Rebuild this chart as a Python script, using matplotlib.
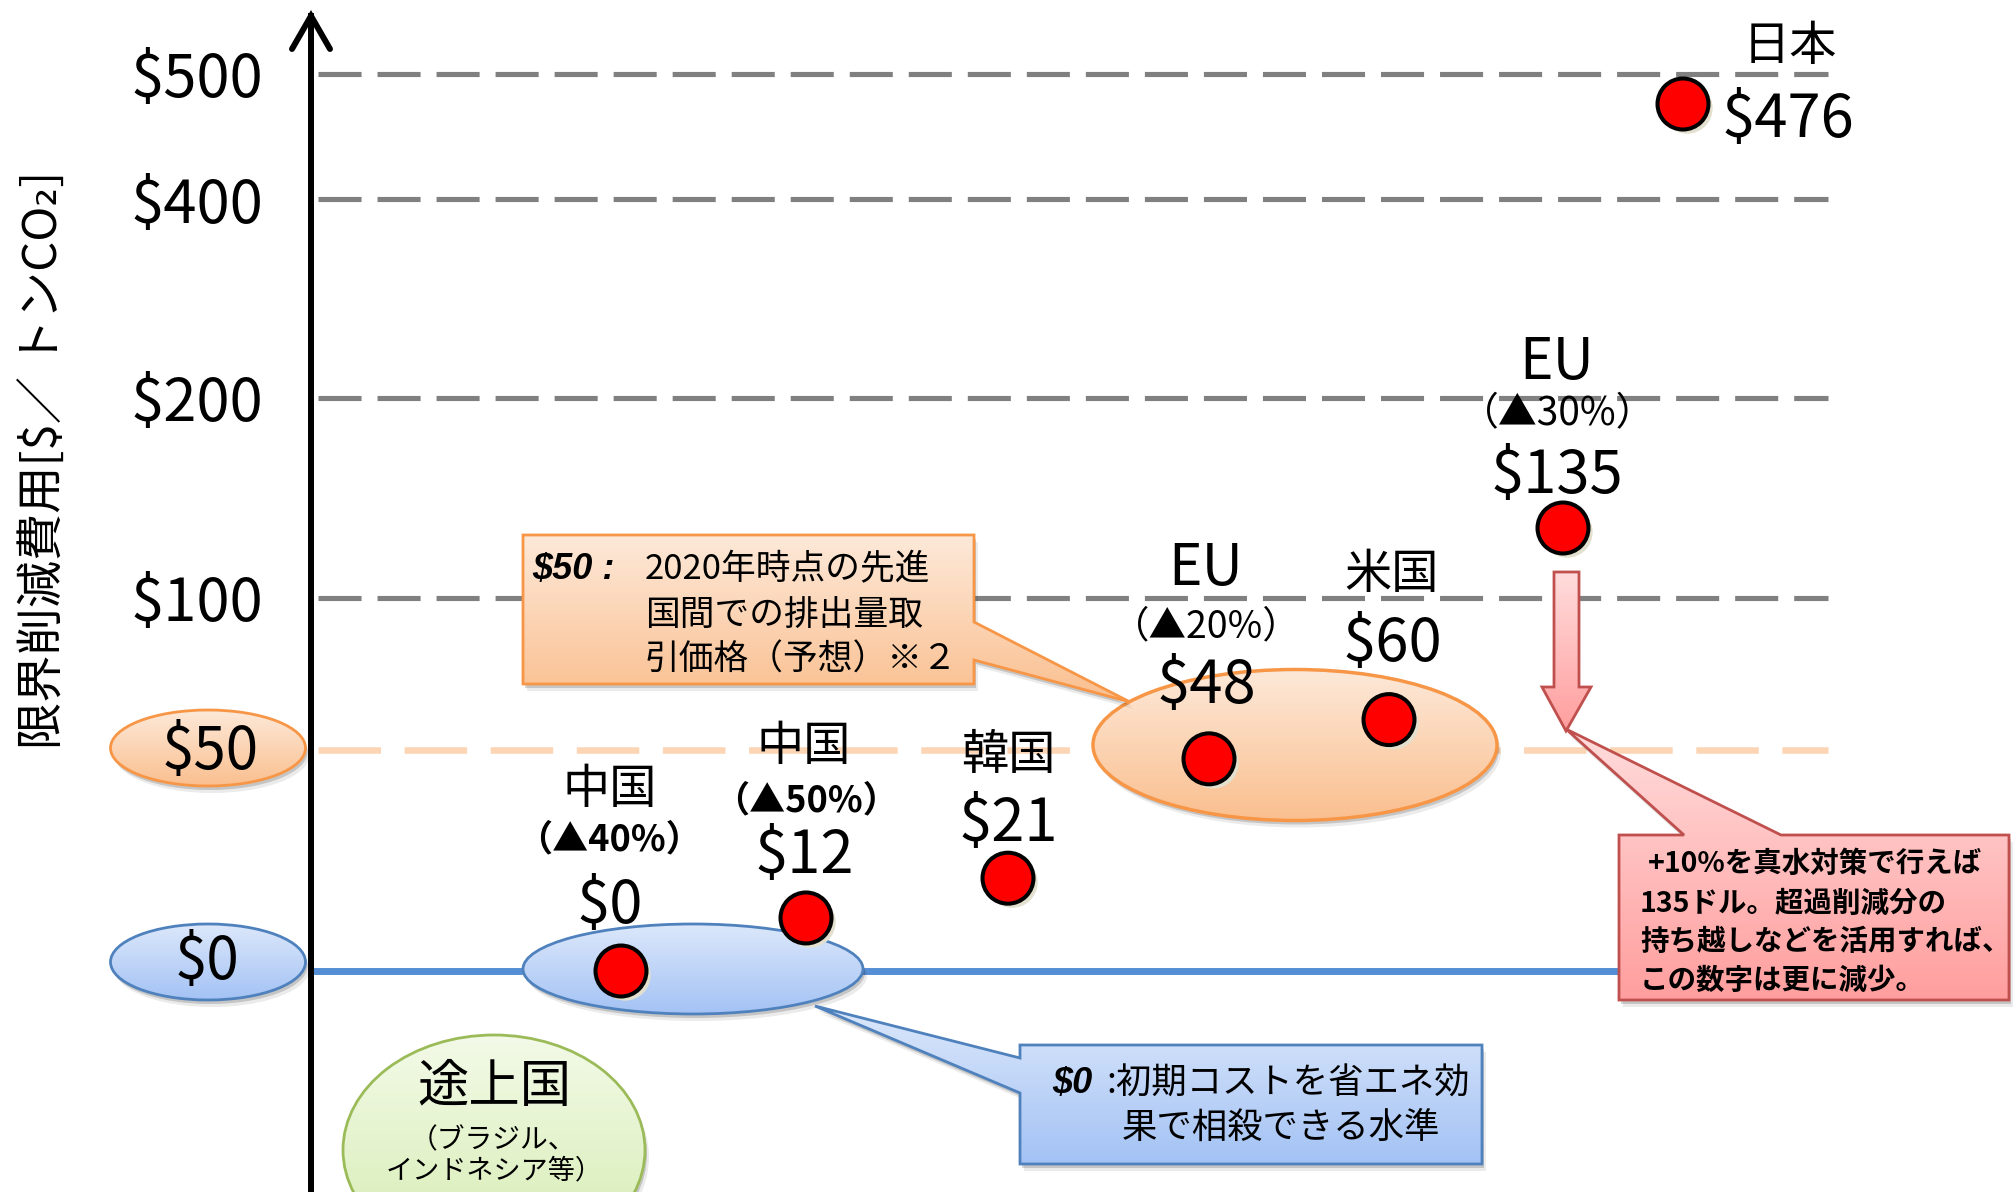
import numpy as np
import matplotlib
matplotlib.use("Agg")
import matplotlib.pyplot as plt
import matplotlib.transforms as mtransforms
import matplotlib.patheffects as pe
from matplotlib.patches import Ellipse, Polygon
from matplotlib.colors import LinearSegmentedColormap
from matplotlib.ticker import NullLocator

plt.rcParams['font.family'] = ['Noto Sans CJK JP', 'DejaVu Sans']
plt.rcParams['text.parse_math'] = False
plt.rcParams['lines.scale_dashes'] = False

# values
countries = ['中国', '中国', '韓国', 'EU', '米国', 'EU', '日本']
targets = ['（▲40%）', '（▲50%）', '', '（▲20%）', '', '（▲30%）', '']
costs = [0, 12, 21, 48, 60, 135, 476]
cost_labels = ['$' + str(c) for c in costs]
grid_vals = [100, 200, 400, 500]
grid_labels = ['$100', '$200', '$400', '$500']
ref_vals = [0, 50]

# layout, in pixels of the 2016x1192 canvas
W, H = 2016, 1192
x_slot = [621, 806, 1008, 1209, 1389, 1563, 1683]
# schematic value axis: piecewise linear between these marks
axis_vals = [-200, 0, 50, 100, 200, 400, 500, 1000]
axis_pix = [1855, 971, 750, 598, 398, 199, 74, -551]


def fwd(v):
    return H - np.interp(v, axis_vals, axis_pix)


def inv(f):
    return np.interp(f, [H - p for p in axis_pix], axis_vals)


fig = plt.figure(figsize=(W / 100, H / 100), dpi=100)
ax = fig.add_axes([0, 0, 1, 1])
ax.set_yscale('function', functions=(fwd, inv))
ax.set_xlim(0, W)
ax.set_ylim(inv(0), inv(H))
ax.set_autoscale_on(False)
for s in ax.spines.values():
    s.set_visible(False)
ax.set_xticks([])
ax.set_yticks(grid_vals, grid_labels)
ax.yaxis.set_minor_locator(NullLocator())
# labels end at x=263 px, to the left of the arrow
ax.tick_params(axis='y', length=0, pad=-263 * 0.72, labelsize=43)

# pixel coordinates measured from the top-left corner
px = mtransforms.Affine2D().scale(1 / W, -1 / H).translate(0, 1) + fig.transFigure


def shape(make, top, bottom, edge, lw, z, shadow=True):
    if shadow:
        for dx, dy, a in [(2, 4, 0.16), (4, 7, 0.08)]:
            s = make()
            s.set(transform=mtransforms.Affine2D().translate(dx, dy) + px,
                  facecolor='black', edgecolor='none', alpha=a,
                  zorder=z - 0.02, clip_on=False)
            ax.add_patch(s)
    p = make()
    p.set(transform=px, facecolor='none', edgecolor=edge, linewidth=lw,
          zorder=z, clip_on=False)
    ax.add_patch(p)
    ext = p.get_path().get_extents(p.get_patch_transform())
    cmap = LinearSegmentedColormap.from_list('g', [top, bottom])
    im = ax.imshow(np.linspace(0, 1, 256)[:, None], cmap=cmap, aspect='auto',
                   extent=(ext.x0, ext.x1, ext.y1, ext.y0), transform=px,
                   interpolation='bilinear', zorder=z - 0.01)
    im.set_clip_path(p)
    im.set_clip_box(None)
    return p


def txt(x, y, s, size, **kw):
    kw.setdefault('ha', 'center')
    kw.setdefault('va', 'center')
    return ax.text(x, y, s, transform=px, fontsize=size, zorder=6, **kw)


ORANGE = ('#fde9d9', '#fabf8f', '#f79646')
BLUE = ('#dce8fb', '#a3c2f4', '#4f81bd')
RED = ('#ffdcdc', '#ff9e9e', '#c0504d')
GREEN = ('#f3fae8', '#d5ecb0', '#9bbb59')

# grid lines and reference levels
for v in grid_vals:
    ax.plot([318, 1828], [v, v], color='#808080', lw=3.7, dashes=(31, 11.5), zorder=1)
ax.plot([318, 1828], [ref_vals[1]] * 2, color='#fcd5b5', lw=4.7, dashes=(45, 17), zorder=1.2)
ax.plot([317, 1620], [ref_vals[0]] * 2, color='#558ed5', lw=5, zorder=1.3)

# value axis arrow
ax.plot([311, 311], [H, 16], transform=px, color='black', lw=4.3, clip_on=False, zorder=4)
ax.plot([292, 311, 330], [49, 16, 49], transform=px, color='black', lw=4.3,
        solid_capstyle='round', solid_joinstyle='miter', clip_on=False, zorder=4)
txt(45, 460, '限界削減費用[$／ トンCO₂]', 34, rotation=90)

# $50 / $0 badges on the axis
shape(lambda: Ellipse((208, 748), 195, 76), *ORANGE, 2, 2)
txt(210, 752, '$50', 42)
shape(lambda: Ellipse((208, 962), 195, 76), *BLUE, 2, 2)
txt(207, 963, '$0', 42)

# group ellipses
shape(lambda: Ellipse((693, 969), 340, 90), *BLUE, 2, 2)
shape(lambda: Ellipse((1295, 745), 404, 151), *ORANGE, 2.5, 2)
shape(lambda: Ellipse((494, 1150), 302, 230), *GREEN, 2, 2)
txt(494, 1087, '途上国', 37)
txt(493, 1140, '（ブラジル、', 20)
txt(494, 1171, 'インドネシア等）', 19.5)

# callouts
shape(lambda: Polygon([(523, 535), (974, 535), (974, 622), (1130, 702),
                       (974, 660), (974, 684), (523, 684)]), *ORANGE, 2, 3)
bi = dict(fontfamily=['Liberation Sans', 'DejaVu Sans'], style='italic', weight='bold', ha='left')
txt(532, 570, '$50 :', 26, **bi)
for y, s in zip([570, 615, 660], ['2020年時点の先進', '国間での排出量取', '引価格（予想）※２']):
    txt(645, y, s, 25, ha='left')

shape(lambda: Polygon([(1020, 1045), (1482, 1045), (1482, 1164), (1020, 1164),
                       (1020, 1093), (815, 1006), (1020, 1058)]), *BLUE, 2, 3)
txt(1052, 1084, '$0', 26, **bi)
txt(1106, 1084, ':初期コストを省エネ効', 25.5, ha='left')
txt(1122, 1128, '果で相殺できる水準', 25.5, ha='left')

shape(lambda: Polygon([(1619, 835), (1684, 835), (1566, 729), (1781, 835),
                       (2009, 835), (2009, 1000), (1619, 1000)]), *RED, 2, 3)
for x, y, s in zip([1648, 1640, 1640, 1640], [864, 904, 942, 981],
                   ['+10%を真水対策で行えば', '135ドル。超過削減分の',
                    '持ち越しなどを活用すれば、', 'この数字は更に減少。']):
    txt(x, y, s, 20.5, ha='left', weight='bold')

shape(lambda: Polygon([(1554, 572), (1579, 572), (1579, 687), (1591, 687),
                       (1566, 731), (1542, 687), (1554, 687)]), *RED, 2, 3, shadow=False)

# the points
ax.plot(x_slot, costs, ls='none', marker='o', ms=36.7, mfc='#ff0000', mec='black',
        mew=2.9, zorder=5, clip_on=False,
        path_effects=[pe.SimplePatchShadow(offset=(3, -3), shadow_rgbFace='#e3e0cf', alpha=1),
                      pe.Normal()])

# labels, offsets in pixels from each point
name_off = [(-11, -181), (-2, -171), (0, -122), (-3, -190), (3, -145), (-6, -165), (107, -57)]
target_off = [(-12, -131), (0, -117), None, (-3, -132), None, (-5, -114), None]
value_off = [(-11, -64), (-2, -61), (0, -54), (-3, -72), (3, -75), (-6, -51), (105, 16)]
target_size = [26, 26, 0, 27, 0, 28, 0]


def lab(i, s, off, size, **kw):
    ax.annotate(s, xy=(x_slot[i], costs[i]), xytext=(off[0] * 0.72, -off[1] * 0.72),
                textcoords='offset points', ha='center', va='center',
                fontsize=size, zorder=6, **kw)


for i in range(len(costs)):
    lab(i, countries[i], name_off[i], 41 if countries[i] == 'EU' else 34)
    if targets[i]:
        lab(i, targets[i], target_off[i], target_size[i],
            weight='bold' if i < 2 else 'normal')
    lab(i, cost_labels[i], value_off[i], 43)

fig.savefig('out.png', dpi=100)
